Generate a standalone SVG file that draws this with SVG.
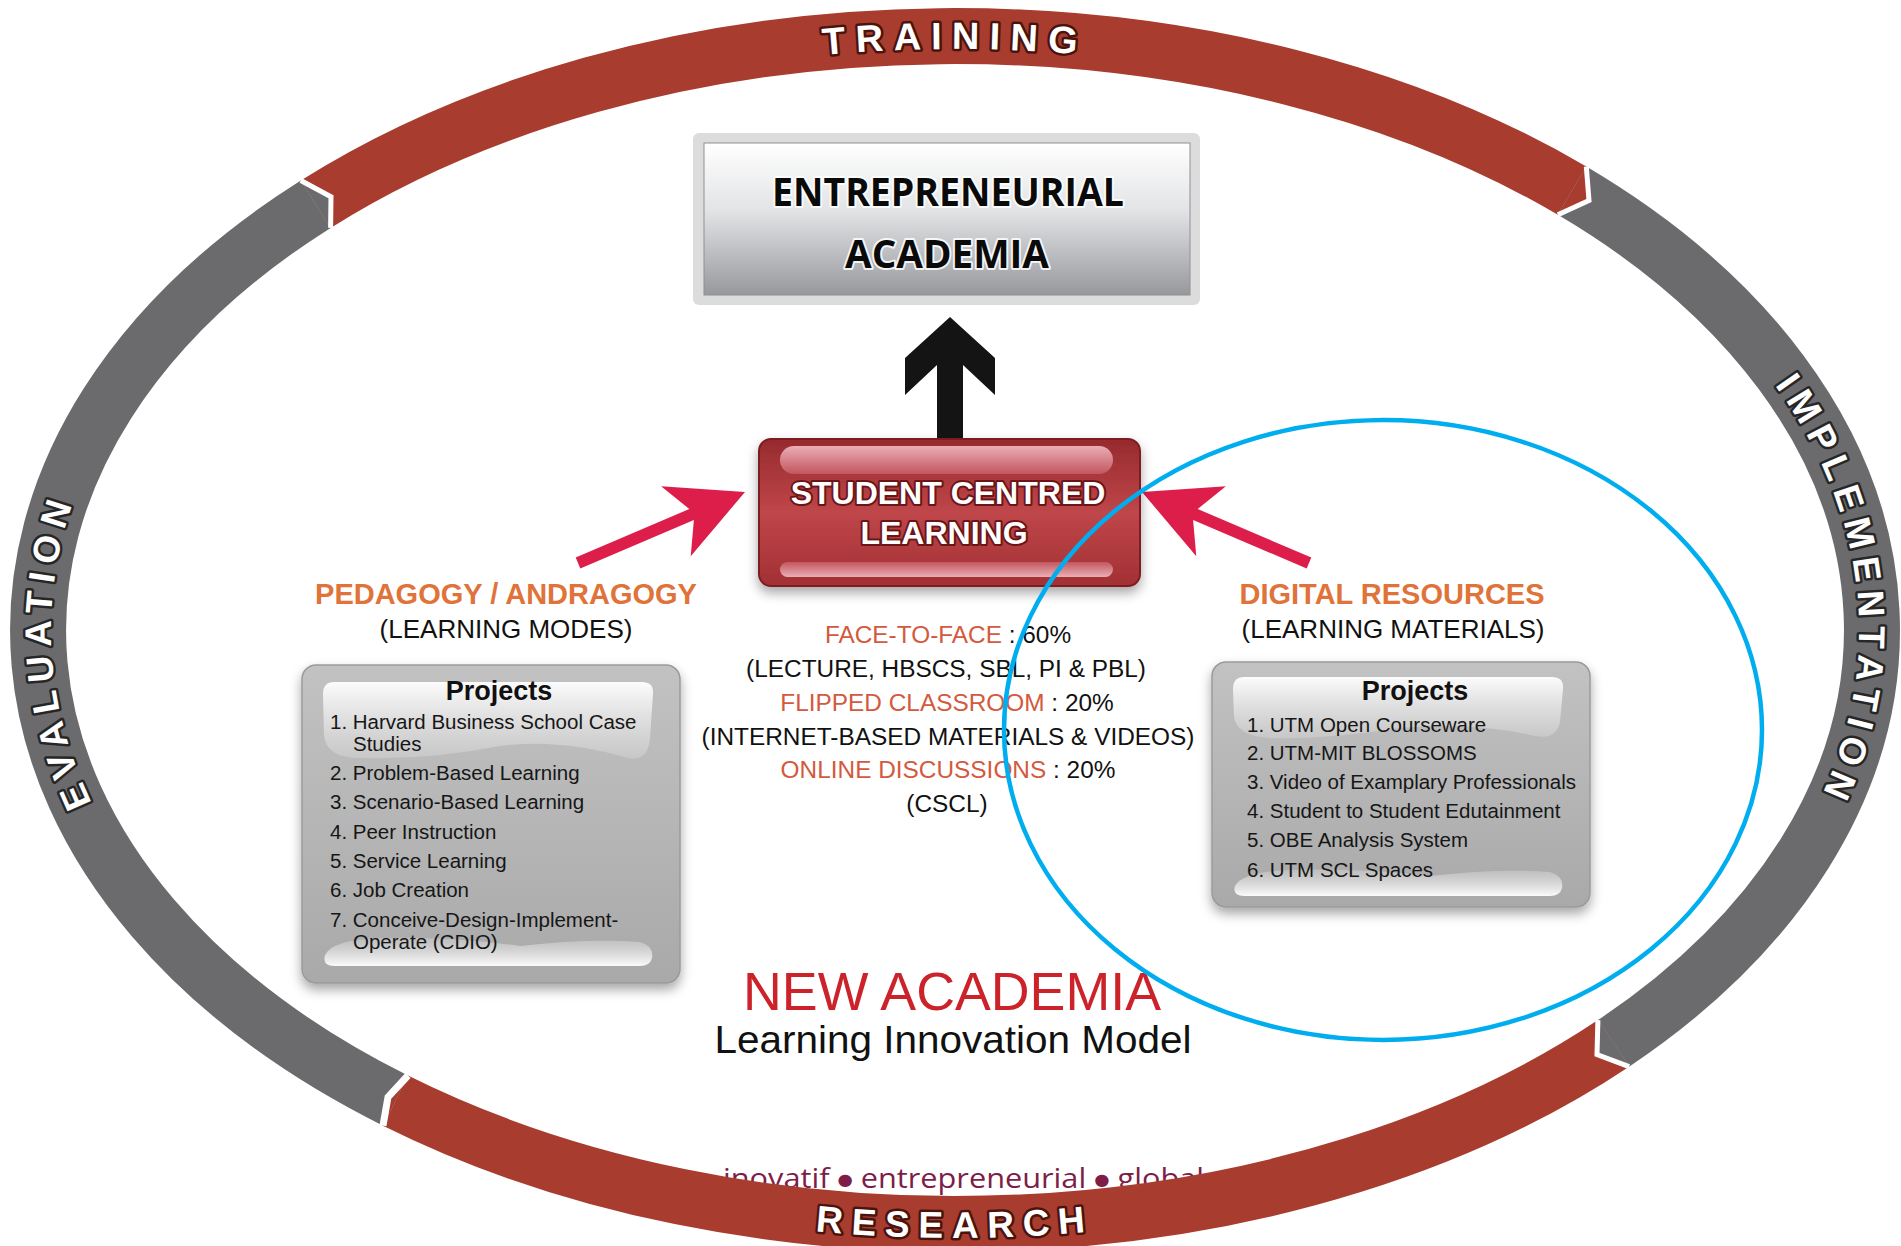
<svg xmlns="http://www.w3.org/2000/svg" width="1901" height="1246" viewBox="0 0 1901 1246">
<defs>
<style>
.ringlbl{font-family:"Liberation Sans",Arial,sans-serif;font-weight:700;fill:#fff;paint-order:stroke;stroke-linejoin:round;stroke-width:5}
.onred{stroke:#4a130c}
.ongray{stroke:#262626}
.sans{font-family:"Liberation Sans",Arial,sans-serif}
.item{font-family:"Liberation Sans",Arial,sans-serif;font-size:20.5px;fill:#161616}
.proj{font-family:"Liberation Sans",Arial,sans-serif;font-size:27px;font-weight:700;fill:#111;text-anchor:middle}
.orange{fill:#e0733a}
.rust{fill:#d35a3e}
.mid{font-family:"Liberation Sans",Arial,sans-serif;font-size:24.4px;fill:#111;text-anchor:middle}
.chev{fill:none;stroke:#fff;stroke-width:5;stroke-linejoin:miter}
.pink{fill:#dd1e4a}
.dot{font-family:"DejaVu Sans",sans-serif;font-size:16px}
</style>
<filter id="shadow" x="-10%" y="-10%" width="120%" height="130%">
<feDropShadow dx="0" dy="6" stdDeviation="6" flood-color="#000" flood-opacity="0.35"/>
</filter>
<linearGradient id="eaGrad" x1="0" y1="0" x2="0" y2="1">
<stop offset="0" stop-color="#ffffff"/>
<stop offset="0.45" stop-color="#e2e3e5"/>
<stop offset="1" stop-color="#96989c"/>
</linearGradient>
<linearGradient id="sclGrad" x1="0" y1="0" x2="0" y2="1">
<stop offset="0" stop-color="#962a2e"/>
<stop offset="0.5" stop-color="#bf4649"/>
<stop offset="1" stop-color="#a23034"/>
</linearGradient>
<linearGradient id="pinkGloss" x1="0" y1="0" x2="0" y2="1">
<stop offset="0" stop-color="#f3bcc3"/>
<stop offset="0.5" stop-color="#dc8a94"/>
<stop offset="1" stop-color="#c55a63"/>
</linearGradient>
<linearGradient id="pinkGlossB" x1="0" y1="0" x2="0" y2="1">
<stop offset="0" stop-color="#c55a63"/>
<stop offset="1" stop-color="#f3bcc3"/>
</linearGradient>
<linearGradient id="projGrad" x1="0" y1="0" x2="0" y2="1">
<stop offset="0" stop-color="#c2c2c2"/>
<stop offset="1" stop-color="#a9a9a9"/>
</linearGradient>
<linearGradient id="glossTop" x1="0" y1="0" x2="0" y2="1">
<stop offset="0" stop-color="#ffffff" stop-opacity="0.95"/>
<stop offset="1" stop-color="#d0d0d0" stop-opacity="0.6"/>
</linearGradient>
<linearGradient id="glossBot" x1="0" y1="0" x2="0" y2="1">
<stop offset="0" stop-color="#cfcfcf" stop-opacity="0.5"/>
<stop offset="1" stop-color="#ffffff" stop-opacity="0.95"/>
</linearGradient>
<path id="pTop" d="M 172.1 339.5 A 904 581 0 0 1 1737.9 339.5"/>
<path id="pLeft" d="M 523.6 1140.6 A 904 581 0 0 1 482.7 134.6"/>
<path id="pRight" d="M 1365.4 112.3 A 904 581 0 0 1 1447.3 1117.3"/>
<path id="pBot" d="M 147 934 A 933 608 0 0 0 1763 934"/>
</defs>

<rect x="0" y="0" width="1901" height="1246" fill="#ffffff"/>

<!-- slogan (under the ring) -->
<g id="slogan">
<text x="723" y="1188" font-family="'Open Sans',sans-serif" font-size="28" fill="#7d1d48" textLength="481" lengthAdjust="spacingAndGlyphs">inovatif <tspan class="dot" dy="-3">●</tspan><tspan dy="3"> entrepreneurial </tspan><tspan class="dot" dy="-3">●</tspan><tspan dy="3"> global</tspan></text>
</g>

<!-- cycle ring -->
<g id="ring">
<g id="seg-training">
<path d="M 315.7 204.2 A 917 594 0 0 1 1572.1 190.7" fill="none" stroke="#a83c2e" stroke-width="56"/>
</g>
<g id="seg-implementation">
<path d="M 1572.1 190.7 A 917 594 0 0 1 1613.5 1043.4" fill="none" stroke="#6b6b6d" stroke-width="56"/>
</g>
<g id="seg-research">
<path d="M 1613.5 1043.4 A 917 594 0 0 1 395.5 1100.6" fill="none" stroke="#a83c2e" stroke-width="56"/>
</g>
<g id="seg-evaluation">
<path d="M 395.5 1100.6 A 917 594 0 0 1 315.7 204.2" fill="none" stroke="#6b6b6d" stroke-width="56"/>
</g>
<!-- chevron joints -->
<polygon points="300.8,180.5 331,196.8 330.6,227.9" fill="#6b6b6d"/>
<polyline class="chev" points="300.8,180.5 331,196.8 330.6,227.9"/>
<polygon points="1586.3,166.6 1589,200.5 1557.9,214.8" fill="#a83c2e"/>
<polyline class="chev" points="1586.3,166.6 1589,200.5 1557.9,214.8"/>
<polygon points="1629.1,1066.7 1597,1054.5 1597.9,1020.1" fill="#6b6b6d"/>
<polyline class="chev" points="1629.1,1066.7 1597,1054.5 1597.9,1020.1"/>
<polygon points="383,1125.7 388,1097 408,1075.5" fill="#a83c2e"/>
<polyline class="chev" points="383,1125.7 388,1097 408,1075.5" style="stroke-width:7"/>

<text class="ringlbl onred" font-size="38" letter-spacing="10"><textPath href="#pTop" startOffset="50%" text-anchor="middle">TRAINING</textPath></text>
<text class="ringlbl ongray" font-size="37" letter-spacing="8"><textPath href="#pLeft" startOffset="50%" text-anchor="middle">EVALUATION</textPath></text>
<text class="ringlbl ongray" font-size="37" letter-spacing="8"><textPath href="#pRight" startOffset="50%" text-anchor="middle">IMPLEMENTATION</textPath></text>
<text class="ringlbl onred" font-size="37" letter-spacing="9"><textPath href="#pBot" startOffset="50%" text-anchor="middle">RESEARCH</textPath></text>
</g>

<!-- connectors -->
<g id="connectors">
<polygon points="950,317 995,358 995,395 963,365 963,440 937,440 937,365 905,395 905,358" fill="#141414"/>
<polygon class="pink" points="575.7,557.5 689.3,509.1 661.1,486.2 745,492 690.7,556.2 693.9,520.1 580.3,568.5"/>
<polygon class="pink" points="1311.3,557.5 1197.7,509.1 1225.9,486.2 1142,492 1196.3,556.2 1193.1,520.1 1306.7,568.5"/>
</g>

<!-- Entrepreneurial Academia -->
<g id="node-entrepreneurial-academia">
<rect x="693" y="133" width="507" height="172" rx="6" fill="#dcdcdc"/>
<rect x="704" y="143" width="486" height="152" fill="url(#eaGrad)" stroke="#8e9094" stroke-width="1"/>
<g font-family="'Open Sans','Liberation Sans',sans-serif" font-weight="700" font-size="40" text-anchor="middle" fill="#0a0a0a" stroke="#ffffff" stroke-width="4" stroke-opacity="0.85" paint-order="stroke" stroke-linejoin="round">
<text x="948" y="206" textLength="352" lengthAdjust="spacingAndGlyphs">ENTREPRENEURIAL</text>
<text x="947" y="268" textLength="204" lengthAdjust="spacingAndGlyphs">ACADEMIA</text>
</g>
</g>

<!-- Student Centred Learning -->
<g id="node-student-centred-learning">
<rect x="759" y="439" width="381" height="147" rx="12" fill="url(#sclGrad)" stroke="#7e1f22" stroke-width="2" filter="url(#shadow)"/>
<rect x="780" y="446" width="333" height="28" rx="14" fill="url(#pinkGloss)" opacity="0.9"/>
<rect x="780" y="562" width="333" height="15" rx="7.5" fill="url(#pinkGlossB)" opacity="0.9"/>
<g class="sans" font-weight="700" font-size="32" text-anchor="middle" fill="#ffffff" stroke="#6b1518" stroke-width="4" paint-order="stroke" stroke-linejoin="round">
<text x="948" y="504">STUDENT CENTRED</text>
<text x="944" y="544">LEARNING</text>
</g>
</g>

<!-- Pedagogy label -->
<g id="node-pedagogy">
<text class="sans orange" x="506" y="604" font-size="29" font-weight="700" text-anchor="middle">PEDAGOGY / ANDRAGOGY</text>
<text class="sans" x="506" y="638" font-size="26" fill="#111" text-anchor="middle">(LEARNING MODES)</text>
</g>

<!-- Digital resources label -->
<g id="node-digital-resources">
<text class="sans orange" x="1392" y="604" font-size="29" font-weight="700" text-anchor="middle">DIGITAL RESOURCES</text>
<text class="sans" x="1393" y="638" font-size="26" fill="#111" text-anchor="middle">(LEARNING MATERIALS)</text>
</g>

<!-- Center blend text -->
<g id="node-blend">
<text class="mid" x="948" y="643"><tspan class="rust">FACE-TO-FACE</tspan> : 60%</text>
<text class="mid" x="946" y="677">(LECTURE, HBSCS, SBL, PI &amp; PBL)</text>
<text class="mid" x="947" y="711"><tspan class="rust">FLIPPED CLASSROOM</tspan> : 20%</text>
<text class="mid" x="948" y="745">(INTERNET-BASED MATERIALS &amp; VIDEOS)</text>
<text class="mid" x="948" y="778"><tspan class="rust">ONLINE DISCUSSIONS</tspan> : 20%</text>
<text class="mid" x="947" y="812">(CSCL)</text>
</g>

<!-- Left projects -->
<g id="node-projects-pedagogy">
<rect x="302" y="665" width="378" height="318" rx="14" fill="url(#projGrad)" stroke="#9a9a9a" stroke-width="1.5" filter="url(#shadow)"/>
<path d="M 334 682 L 642 682 Q 654 682 653 694 L 650 738 Q 648 762 628 758 Q 560 738 500 746 Q 430 760 360 758 Q 326 758 324 735 L 323 694 Q 323 682 334 682 Z" fill="url(#glossTop)"/>
<path d="M 334 966 Q 322 966 325 955 Q 332 940 380 938 Q 450 936 520 946 Q 590 938 640 942 Q 654 946 652 958 Q 650 966 640 966 Z" fill="url(#glossBot)"/>
<text class="proj" x="499" y="700">Projects</text>
<text class="item" x="330" y="729">1. Harvard Business School Case</text>
<text class="item" x="353" y="751">Studies</text>
<text class="item" x="330" y="780">2. Problem-Based Learning</text>
<text class="item" x="330" y="809">3. Scenario-Based Learning</text>
<text class="item" x="330" y="839">4. Peer Instruction</text>
<text class="item" x="330" y="868">5. Service Learning</text>
<text class="item" x="330" y="897">6. Job Creation</text>
<text class="item" x="330" y="927">7. Conceive-Design-Implement-</text>
<text class="item" x="353" y="949">Operate (CDIO)</text>
</g>

<!-- Right projects -->
<g id="node-projects-digital">
<rect x="1212" y="662" width="378" height="245" rx="14" fill="url(#projGrad)" stroke="#9a9a9a" stroke-width="1.5" filter="url(#shadow)"/>
<path d="M 1244 677 L 1552 677 Q 1564 677 1563 689 L 1560 722 Q 1556 742 1530 735 Q 1470 722 1400 728 Q 1320 740 1270 738 Q 1236 736 1234 716 L 1233 689 Q 1233 677 1244 677 Z" fill="url(#glossTop)"/>
<path d="M 1244 896 Q 1232 896 1235 886 Q 1242 872 1290 870 Q 1360 868 1430 876 Q 1500 868 1550 872 Q 1564 876 1562 888 Q 1560 896 1550 896 Z" fill="url(#glossBot)"/>
<text class="proj" x="1415" y="700">Projects</text>
<text class="item" x="1247" y="732">1. UTM Open Courseware</text>
<text class="item" x="1247" y="760">2. UTM-MIT BLOSSOMS</text>
<text class="item" x="1247" y="789">3. Video of Examplary Professionals</text>
<text class="item" x="1247" y="818">4. Student to Student Edutainment</text>
<text class="item" x="1247" y="847">5. OBE Analysis System</text>
<text class="item" x="1247" y="877">6. UTM SCL Spaces</text>
</g>

<!-- Title -->
<g id="title">
<text class="sans" x="952" y="1010" font-size="54" fill="#cc2229" text-anchor="middle" textLength="418" lengthAdjust="spacingAndGlyphs">NEW ACADEMIA</text>
<text class="sans" x="953" y="1053" font-size="38" fill="#111" text-anchor="middle" textLength="477" lengthAdjust="spacingAndGlyphs">Learning Innovation Model</text>
</g>

<!-- highlight ellipse -->
<g id="highlight">
<ellipse cx="1383" cy="730" rx="379" ry="310" fill="none" stroke="#00aeef" stroke-width="4.5"/>
</g>
</svg>
